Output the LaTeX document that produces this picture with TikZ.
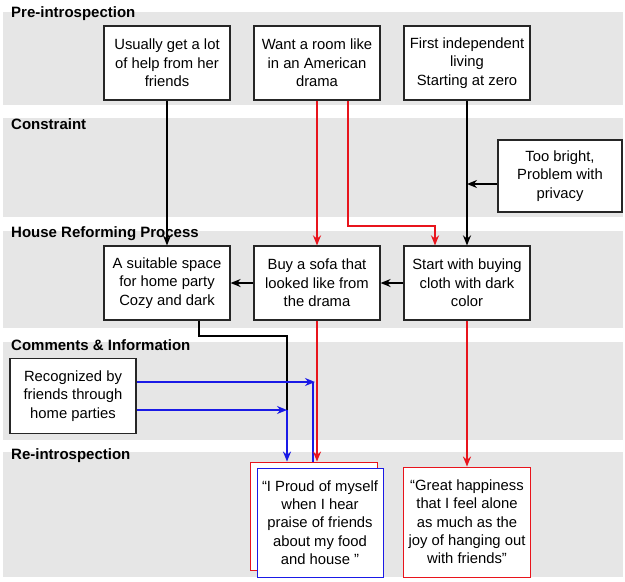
\documentclass[tikz,border=0pt]{standalone}
\usepackage{fontspec}
\setmainfont{Liberation Sans}
\usetikzlibrary{arrows.meta}
\definecolor{band}{HTML}{E6E6E6}
\definecolor{rd}{HTML}{E8141C}
\definecolor{bl}{HTML}{1A1AE6}
\begin{document}
\begin{tikzpicture}[x=1pt,y=-1pt,
  box/.style={draw=black!85, line width=1.2pt, fill=white, minimum width=126pt, minimum height=74pt, align=center, font=\fontsize{14.8}{18.3}\selectfont, inner sep=1pt},
  lbl/.style={anchor=west, font=\bfseries\fontsize{15}{17}\selectfont, inner sep=0pt},
  arr/.style={line width=2pt, -{Stealth[length=10pt,width=8pt]}},
  ln/.style={line width=2pt},
]
\useasboundingbox (0,0) rectangle (625,582);
% bands
\fill[band] (3,12) rectangle (623,105);
\fill[band] (3,118) rectangle (623,217);
\fill[band] (3,231) rectangle (623,328);
\fill[band] (3,342) rectangle (623,440);
\fill[band] (3,452) rectangle (623,577);
% labels
\node[lbl] (l1) at (11,14) {Pre-introspection};
\node[lbl] (l2) at (11,124) {Constraint};
\node[lbl] (l3) at (11,234) {House Reforming Process};
\node[lbl] (l4) at (11,345) {Comments \& Information};
\node[lbl] (l5) at (11,456) {Re-introspection};
% boxes
\node[box] (a) at (167,63) {Usually get a lot\\of help from her\\friends};
\node[box] (b) at (317,63) {Want a room like\\in an American\\drama};
\node[box] (c) at (467,63) {First independent\\living\\Starting at zero};
\node[box, minimum width=124pt, minimum height=72pt] (d) at (560,176) {Too bright,\\Problem with\\privacy};
\node[box] (e) at (167,283) {A suitable space\\for home party\\Cozy and dark};
\node[box] (f) at (317,283) {Buy a sofa that\\looked like from\\the drama};
\node[box] (g) at (467,283) {Start with buying\\cloth with dark\\color};
\node[box, minimum height=75pt] (h) at (73,396) {Recognized by\\friends through\\home parties};
\node[box, draw=rd, line width=0.9pt, minimum width=127pt, minimum height=108pt] (ib) at (313.5,516) {};
\node[box, draw=bl, line width=0.9pt, minimum width=126pt, minimum height=109pt] (i) at (320,522.5) {“I Proud of myself\\when I hear\\praise of friends\\about my food\\and house ”};
\node[box, draw=rd, line width=0.9pt, minimum width=127pt, minimum height=110pt] (j) at (467,522) {“Great happiness\\that I feel alone\\as much as the\\joy of hanging out\\with friends”};
% coordinates
\coordinate (t1) at (348,226);
\coordinate (t2) at (435,226);
\coordinate (dd) at (467,184);
\coordinate (e1) at (199,336);
\coordinate (e2) at (287,336);
\coordinate (e3) at (287,410);
\coordinate (h1) at (315,382);
\coordinate (h2) at (313,382);
% connectors
\draw[arr] (a.south) -- (e.north);
\draw[arr] (c.south) -- (g.north);
\draw[arr] (d.west |- dd) -- (dd);
\draw[arr,rd] (b.south) -- (f.north);
\draw[arr,rd] (b.south -| t1) -- (t1) -- (t2) -- (g.north -| t2);
\draw[arr] (g.west) -- (f.east);
\draw[arr] (f.west) -- (e.east);
\draw[ln] (e.south -| e1) -- (e1) -- (e2) -- (e3);
\draw[arr,bl] (h.east |- e3) -- (e3);
\draw[arr,bl] (e3) -- (ib.north -| e3);
\draw[ln,bl] (h2) -- (ib.north -| h2);
\draw[arr,bl] (h.east |- h1) -- (h1);
\draw[arr,rd] (f.south) -- (ib.north -| f.south);
\draw[arr,rd] (g.south) -- (j.north);
\end{tikzpicture}
\end{document}
